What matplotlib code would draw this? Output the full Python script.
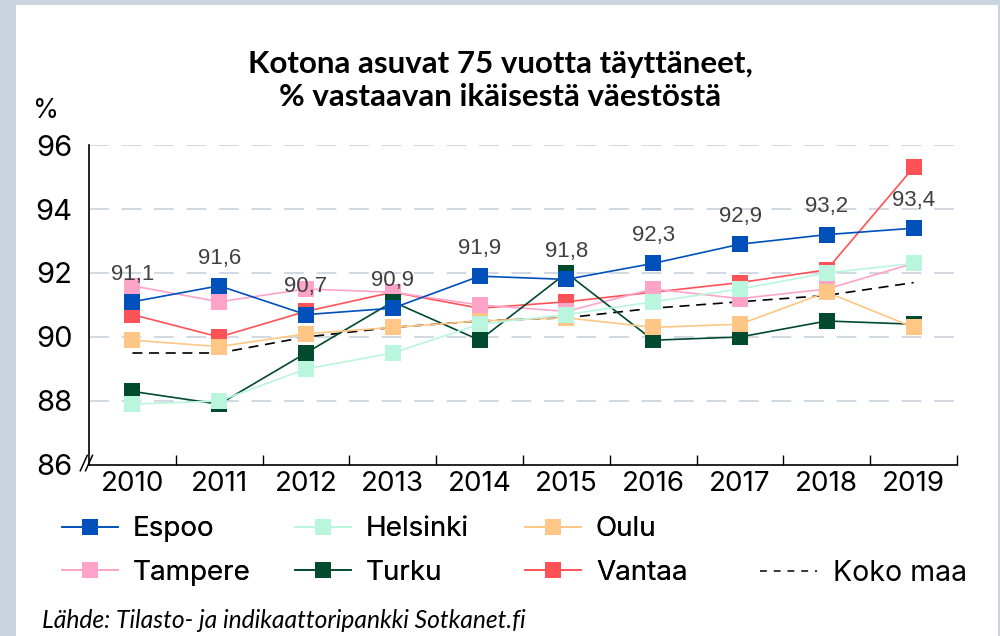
import matplotlib.pyplot as plt
from matplotlib.lines import Line2D
from matplotlib.patches import Rectangle

years = [2010, 2011, 2012, 2013, 2014, 2015, 2016, 2017, 2018, 2019]

espoo = [91.1, 91.6, 90.7, 90.9, 91.9, 91.8, 92.3, 92.9, 93.2, 93.4]
helsinki = [87.9, 88.0, 89.0, 89.5, 90.4, 90.7, 91.1, 91.5, 92.0, 92.3]
oulu = [89.9, 89.7, 90.1, 90.3, 90.5, 90.6, 90.3, 90.4, 91.4, 90.3]
tampere = [91.6, 91.1, 91.5, 91.4, 91.0, 90.8, 91.5, 91.2, 91.5, 92.3]
turku = [88.3, 87.9, 89.5, 91.1, 89.9, 92.0, 89.9, 90.0, 90.5, 90.4]
vantaa = [90.7, 90.0, 90.8, 91.4, 90.9, 91.1, 91.4, 91.7, 92.1, 95.3]
koko_maa = [89.5, 89.5, 90.0, 90.3, 90.5, 90.6, 90.9, 91.1, 91.3, 91.7]

cities = {
    "Espoo": (espoo, "#0050bb"),
    "Helsinki": (helsinki, "#b9f6dd"),
    "Oulu": (oulu, "#ffc685"),
    "Tampere": (tampere, "#ffa3c8"),
    "Turku": (turku, "#004a30"),
    "Vantaa": (vantaa, "#ff5257"),
}
draw_order = ["Vantaa", "Tampere", "Turku", "Oulu", "Helsinki", "Espoo"]

tick_font = "Inter"

fig = plt.figure(figsize=(10, 6.36), dpi=100)
fig.patch.set_facecolor("#cbd5df")
fig.add_artist(Rectangle((0.016, 0), 0.982, 0.992, transform=fig.transFigure,
                         facecolor="white", edgecolor="none", zorder=-10))

ax = fig.add_axes([0.089, 0.2689, 0.868, 0.5031])
ax.set_facecolor("none")

for z, name in enumerate(draw_order):
    vals, col = cities[name]
    ax.plot(years, vals, color=col, lw=1.2, marker="s", markersize=12,
            markeredgewidth=0, zorder=3 + z)

ax.plot(years, koko_maa, color="black", lw=1.2, dashes=(6, 4), zorder=2.5)

for x, v in zip(years, espoo):
    ax.annotate(f"{v:.1f}".replace(".", ","), (x, v), xytext=(0, 20),
                textcoords="offset points", ha="center", va="center",
                fontsize=16, color="#404040",
                family=["Liberation Sans Narrow", "Liberation Sans"], zorder=20)

ax.set_xlim(2009.5, 2019.5)
ax.set_ylim(86, 96)
ax.set_yticks([86, 88, 90, 92, 94, 96])
ax.set_xticks(years)
ax.set_xticks([y + 0.5 for y in years], minor=True)
ax.tick_params(axis="x", which="major", length=0, pad=4, labelsize=20)
ax.tick_params(axis="x", which="minor", direction="in", length=7, width=1)
ax.tick_params(axis="y", length=0, pad=12, labelsize=21)
for lab in ax.get_xticklabels() + ax.get_yticklabels():
    lab.set_family(tick_font)

for yv in [88, 90, 92, 94, 96]:
    ax.axhline(yv, color="#cdd7e1", lw=1.3, dashes=(11, 7), zorder=1)

for s in ["top", "right"]:
    ax.spines[s].set_visible(False)
ax.spines["left"].set_linewidth(1.2)
ax.spines["bottom"].set_linewidth(1.2)

# axis break mark
for dx in (-0.006, 0.0):
    ax.plot([dx - 0.004, dx + 0.004], [-0.018, 0.03], transform=ax.transAxes,
            color="black", lw=1.1, clip_on=False, zorder=30)

fig.text(0.046, 0.826, "%", fontsize=19, family=tick_font, ha="center", va="center")

fig.text(0.5, 0.873, "Kotona asuvat 75 vuotta täyttäneet,\n% vastaavan ikäisestä väestöstä",
         ha="center", va="center", fontsize=22.5, family="Lato", weight="bold",
         linespacing=1.2)

fig.text(0.042, 0.024, "Lähde: Tilasto- ja indikaattoripankki Sotkanet.fi",
         fontsize=17.7, family="Lato", style="italic", ha="left", va="center")

# legend, four columns
def handle(name):
    vals, col = cities[name]
    return Line2D([], [], color=col, lw=1.2, marker="s", markersize=12,
                  markeredgewidth=0)

columns = [
    (0.062, ["Espoo", "Tampere"]),
    (0.295, ["Helsinki", "Turku"]),
    (0.525, ["Oulu", "Vantaa"]),
]
for xpos, names in columns:
    leg = fig.legend([handle(n) for n in names], names, loc="upper left",
                     bbox_to_anchor=(xpos, 0.188), frameon=False,
                     prop={"family": tick_font, "size": 20}, handlelength=2.0,
                     handletextpad=0.55, labelspacing=0.62, borderpad=0,
                     borderaxespad=0)
    fig.add_artist(leg)

kk = Line2D([], [], color="black", lw=1.1, dashes=(4.5, 4.5))
fig.legend([kk], ["Koko maa"], loc="upper left", bbox_to_anchor=(0.76, 0.12),
           frameon=False, prop={"family": tick_font, "size": 20.5}, handlelength=2.0,
           handletextpad=0.55, borderpad=0, borderaxespad=0)

fig.savefig("out.png", dpi=100)
